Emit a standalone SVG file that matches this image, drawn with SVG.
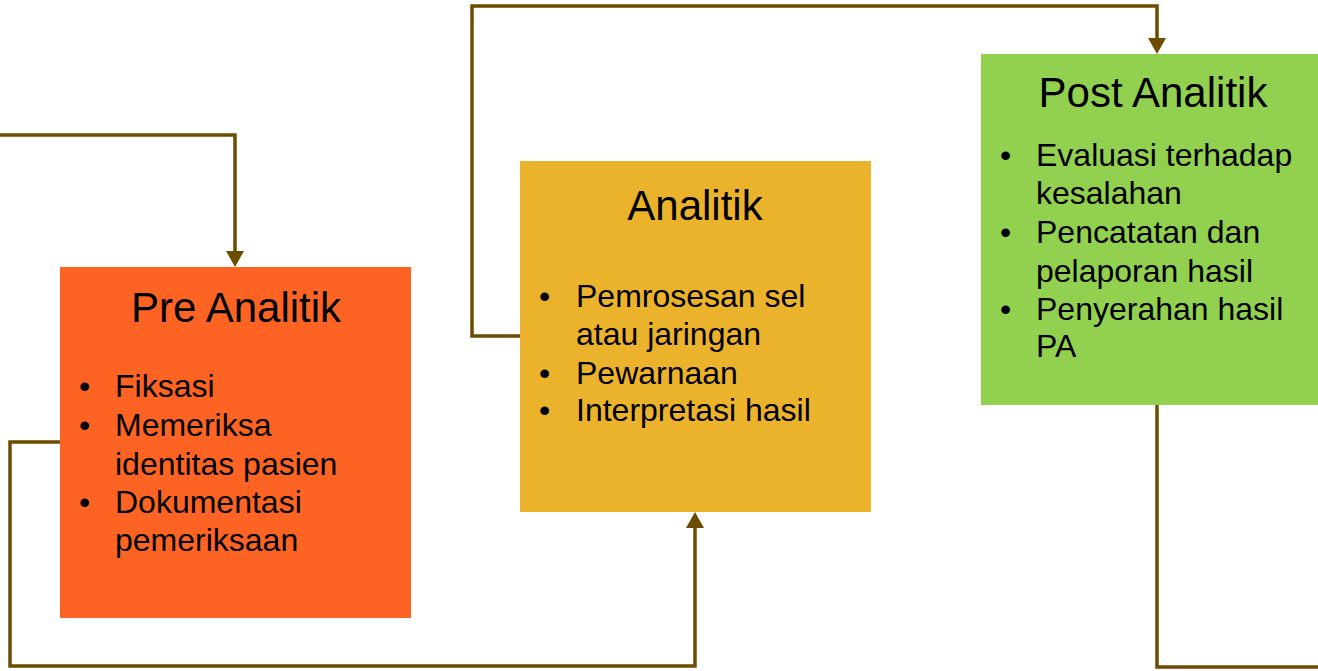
<svg xmlns="http://www.w3.org/2000/svg" width="1318" height="671" viewBox="0 0 1318 671">
  <style>
    .conn { fill: none; stroke: #6B4C00; stroke-width: 3.5; stroke-linejoin: miter; }
    .title { font-family: "Liberation Sans", Arial, sans-serif; font-size: 42px; fill: #000; text-anchor: middle; }
    .item { font-family: "Liberation Sans", Arial, sans-serif; font-size: 32px; fill: #000; }
  </style>
  <defs>
    <marker id="arrow" viewBox="0 0 16 18" refX="0" refY="9" markerWidth="16" markerHeight="18" markerUnits="userSpaceOnUse" orient="auto">
      <path d="M0,0 L16,9 L0,18 z" fill="#6B4C00"/>
    </marker>
  </defs>
  <rect width="1318" height="671" fill="#FFFFFF"/>

  <g id="node-pre">
    <rect x="60" y="267" width="351" height="351" fill="#FD6424"/>
    <text class="title" x="236" y="322">Pre Analitik</text>
    <text class="item" x="79" y="397">•</text><text class="item" x="115" y="397">Fiksasi</text>
    <text class="item" x="79" y="436">•</text><text class="item" x="115" y="436">Memeriksa</text>
    <text class="item" x="115" y="475">identitas pasien</text>
    <text class="item" x="79" y="513">•</text><text class="item" x="115" y="513">Dokumentasi</text>
    <text class="item" x="115" y="551">pemeriksaan</text>
  </g>

  <g id="node-analitik">
    <rect x="520" y="161" width="351" height="351" fill="#EBB32C"/>
    <text class="title" x="695" y="220">Analitik</text>
    <text class="item" x="539" y="307">•</text><text class="item" x="576" y="307">Pemrosesan sel</text>
    <text class="item" x="576" y="345">atau jaringan</text>
    <text class="item" x="539" y="384">•</text><text class="item" x="576" y="384">Pewarnaan</text>
    <text class="item" x="539" y="421">•</text><text class="item" x="576" y="421">Interpretasi hasil</text>
  </g>

  <g id="node-post">
    <rect x="981" y="54" width="337" height="351" fill="#92D050"/>
    <text class="title" x="1153" y="107">Post Analitik</text>
    <text class="item" x="1000" y="166">•</text><text class="item" x="1036" y="166">Evaluasi terhadap</text>
    <text class="item" x="1036" y="204">kesalahan</text>
    <text class="item" x="1000" y="243">•</text><text class="item" x="1036" y="243">Pencatatan dan</text>
    <text class="item" x="1036" y="282">pelaporan hasil</text>
    <text class="item" x="1000" y="320">•</text><text class="item" x="1036" y="320">Penyerahan hasil</text>
    <text class="item" x="1036" y="357">PA</text>
  </g>

  <g id="connectors">
    <path class="conn" d="M0,135 H235 V251" marker-end="url(#arrow)"/>
    <path class="conn" d="M60,442 H10 V666 H695 V528" marker-end="url(#arrow)"/>
    <path class="conn" d="M520,336 H472 V6 H1157 V38" marker-end="url(#arrow)"/>
    <path class="conn" d="M1157,405 V667 H1318"/>
  </g>
</svg>
